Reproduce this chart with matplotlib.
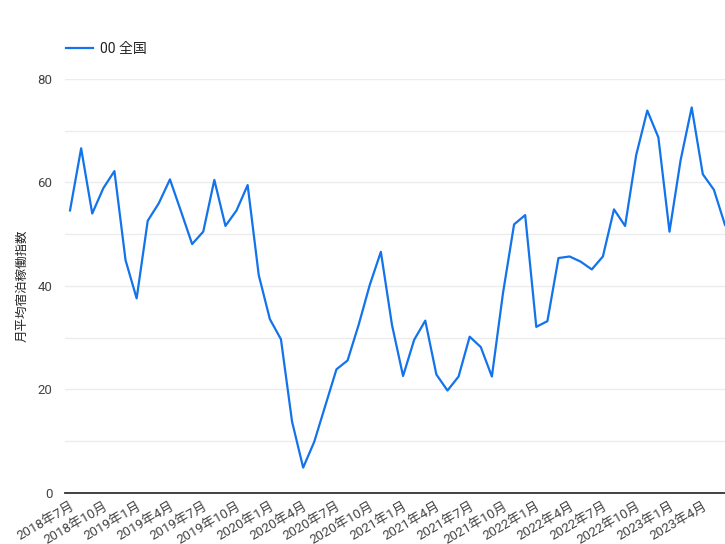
import matplotlib.pyplot as plt
from matplotlib.ticker import MultipleLocator

plt.rcParams['font.family'] = ['Roboto', 'Noto Sans CJK JP', 'DejaVu Sans']

# --- データ ---
months = [f'{y}年{m}月' for y in range(2018, 2024) for m in range(1, 13)]
months = months[6:66]  # 2018年7月 ～ 2023年6月

values = [54.6, 66.6, 54.0, 58.9, 62.2, 45.0, 37.6, 52.6, 56.0, 60.6,
          54.4, 48.1, 50.5, 60.5, 51.6, 54.6, 59.5, 42.1, 33.6, 29.7,
          13.8, 4.9, 9.9, 16.9, 23.9, 25.6, 32.5, 40.2, 46.6, 32.5,
          22.6, 29.6, 33.3, 22.9, 19.8, 22.5, 30.2, 28.2, 22.5, 38.6,
          51.9, 53.7, 32.1, 33.2, 45.4, 45.7, 44.7, 43.2, 45.7, 54.8,
          51.6, 65.3, 73.9, 68.7, 50.5, 64.3, 74.5, 61.6, 58.6, 51.8]

series_name = '00 全国'
y_label = '月平均宿泊稼働指数'
tick_step = 3

# --- 描画 ---
fig = plt.figure(figsize=(7.25, 5.44), dpi=100)
ax = fig.add_axes([0.0897, 0.0938, 0.9103, 0.761])

x = list(range(len(values)))
ax.plot(x, values, color='#1273eb', linewidth=1.6, label=series_name, clip_on=False)

ax.set_xlim(-0.45, len(values) - 1)
ax.set_ylim(0, 80)

ax.yaxis.set_major_locator(MultipleLocator(20))
ax.yaxis.set_minor_locator(MultipleLocator(10))
ax.grid(True, which='both', axis='y', color='#ececec', linewidth=1.0)
ax.set_axisbelow(True)

ax.set_xticks(x[::tick_step])
ax.set_xticklabels(months[::tick_step], rotation=30, ha='right',
                   rotation_mode='anchor', fontsize=9.5, color='#444444')
ax.tick_params(axis='both', which='both', length=0)
ax.tick_params(axis='y', labelsize=9.5, labelcolor='#444444', pad=9)
ax.tick_params(axis='x', pad=5)

for s in ['top', 'right', 'left']:
    ax.spines[s].set_visible(False)
ax.spines['bottom'].set_color('#333333')
ax.spines['bottom'].set_linewidth(1.3)

ax.set_ylabel(y_label, fontsize=9, color='#222222')
ax.yaxis.set_label_coords(-0.056, 0.5)

ax.legend(loc='lower left', bbox_to_anchor=(-0.018, 1.025), frameon=False,
          fontsize=10, handlelength=2.0, handletextpad=0.5,
          labelcolor='#222222')

plt.savefig('out.png', dpi=100)
